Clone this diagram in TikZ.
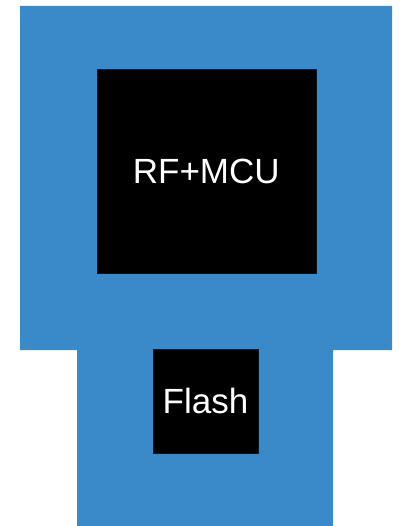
\documentclass[tikz,border=0pt]{standalone}
\usepackage{fontspec}
\setmainfont{Liberation Sans}
\definecolor{boardblue}{HTML}{3A89C9}
\usetikzlibrary{positioning}
\tikzset{
	chipnode/.style={
			rectangle,
			draw=black!85!boardblue,
			fill=black,
			text=white,
			inner sep=0pt,
			font=\fontsize{35}{40}\selectfont
		},
	boardshape/.style={
			fill=boardblue,
			draw=none
		}
}
\begin{document}
\begin{tikzpicture}[x=1pt, y=-1pt]
\useasboundingbox (0,0) rectangle (403,526);

% board outline
\path[boardshape] (20,6) -- (392,6) -- (392,350) -- (333,350) -- (333,526)
  -- (77,526) -- (77,350) -- (20,350) -- cycle;

\node[chipnode, minimum width=219pt, minimum height=204pt] (mcu) at (206.3,171.2) {RF+MCU};
\node[chipnode, minimum width=105pt, minimum height=104pt] (flash) at (205.5,401) {Flash};

\end{tikzpicture}
\end{document}
